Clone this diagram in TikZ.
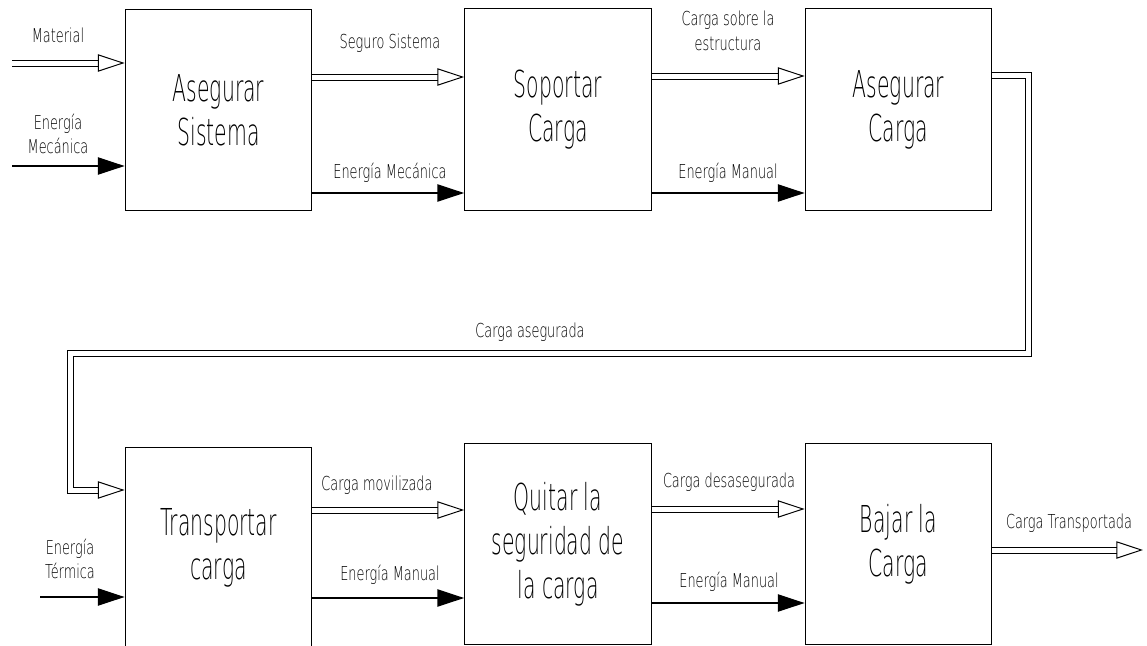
\documentclass[tikz,border=0pt]{standalone}
\usepackage{fontspec}
\usetikzlibrary{arrows.meta}
\newfontfamily\boxfont{DejaVu Sans ExtraLight}[FakeStretch=0.55]
\newfontfamily\lblfont{DejaVu Sans ExtraLight}[FakeStretch=0.67]

\tikzset{
  func/.style={draw, line width=0.9pt, minimum width=140pt, minimum height=151pt,
    inner sep=0pt, align=center, font=\boxfont\fontsize{27.8}{33}\selectfont},
  lbl/.style={align=center, inner sep=0pt, font=\lblfont\fontsize{14.4}{18.5}\selectfont},
  flow/.style={double, line width=0.75pt, double distance=3.75pt,
    -{Triangle[open, length=20pt, width=13pt, line width=0.75pt]}},
  energy/.style={line width=0.9pt, -{Triangle[length=20pt, width=13pt]}}
}

\begin{document}
\begin{tikzpicture}[x=0.75pt, y=-0.75pt]
\useasboundingbox (0,0) rectangle (1147,646);

% functions
\node [func] (box1) at (218.5,110) {Asegurar\\Sistema};
\node [func] (box2) at (558,109.5) {Soportar\\Carga};
\node [func] (box3) at (898.5,109.5) {Asegurar\\Carga};
\node [func] (box4) at (218.5,548) {Transportar\\carga};
\node [func] (box5) at (558,544) {Quitar la\\seguridad de\\la carga};
\node [func] (box6) at (898.5,544) {Bajar la\\Carga};

% inputs
\coordinate (mat) at (12,63);
\coordinate (emec) at (12,166);
\coordinate (eterm) at (40,597);
\draw [flow] (mat) -- (mat -| box1.west);
\draw [energy] (emec) -- (emec -| box1.west);
\draw [energy] (eterm) -- (eterm -| box4.west);
\node [lbl] (lmat) at (58,35) {Material};
\node [lbl] (lemec) at (58,134) {Energía\\Mecánica};
\node [lbl] (leterm) at (70,559) {Energía\\Térmica};

% top row
\draw [flow] (box1.east |- 0,77) -- (box2.west |- 0,77);
\draw [energy] (box1.east |- 0,193) -- (box2.west |- 0,193);
\draw [flow] (box2.east |- 0,76) -- (box3.west |- 0,76);
\draw [energy] (box2.east |- 0,193) -- (box3.west |- 0,193);
\node [lbl] (l12a) at (390,43) {Seguro Sistema};
\node [lbl] (l12b) at (390,173) {Energía Mecánica};
\node [lbl] (l23a) at (728,31) {Carga sobre la\\estructura};
\node [lbl] (l23b) at (728,173) {Energía Manual};

% return loop
\coordinate (turnR) at (1028,353);
\coordinate (turnL) at (70,490);
\draw [flow] (box3.east |- 0,75) -| (turnR) -| (turnL) -- (turnL -| box4.west);
\node [lbl] (lloop) at (530,332) {Carga asegurada};

% bottom row
\draw [flow] (box4.east |- 0,510) -- (box5.west |- 0,510);
\draw [energy] (box4.east |- 0,598) -- (box5.west |- 0,598);
\draw [flow] (box5.east |- 0,509) -- (box6.west |- 0,509);
\draw [energy] (box5.east |- 0,603) -- (box6.west |- 0,603);
\coordinate (out) at (1143,550);
\draw [flow] (out -| box6.east) -- (out);
\node [lbl] (l45a) at (377,485) {Carga movilizada};
\node [lbl] (l45b) at (390,575) {Energía Manual};
\node [lbl] (l56a) at (729,482) {Carga desasegurada};
\node [lbl] (l56b) at (729,582) {Energía Manual};
\node [lbl] (lout) at (1069,523) {Carga Transportada};
\end{tikzpicture}
\end{document}
